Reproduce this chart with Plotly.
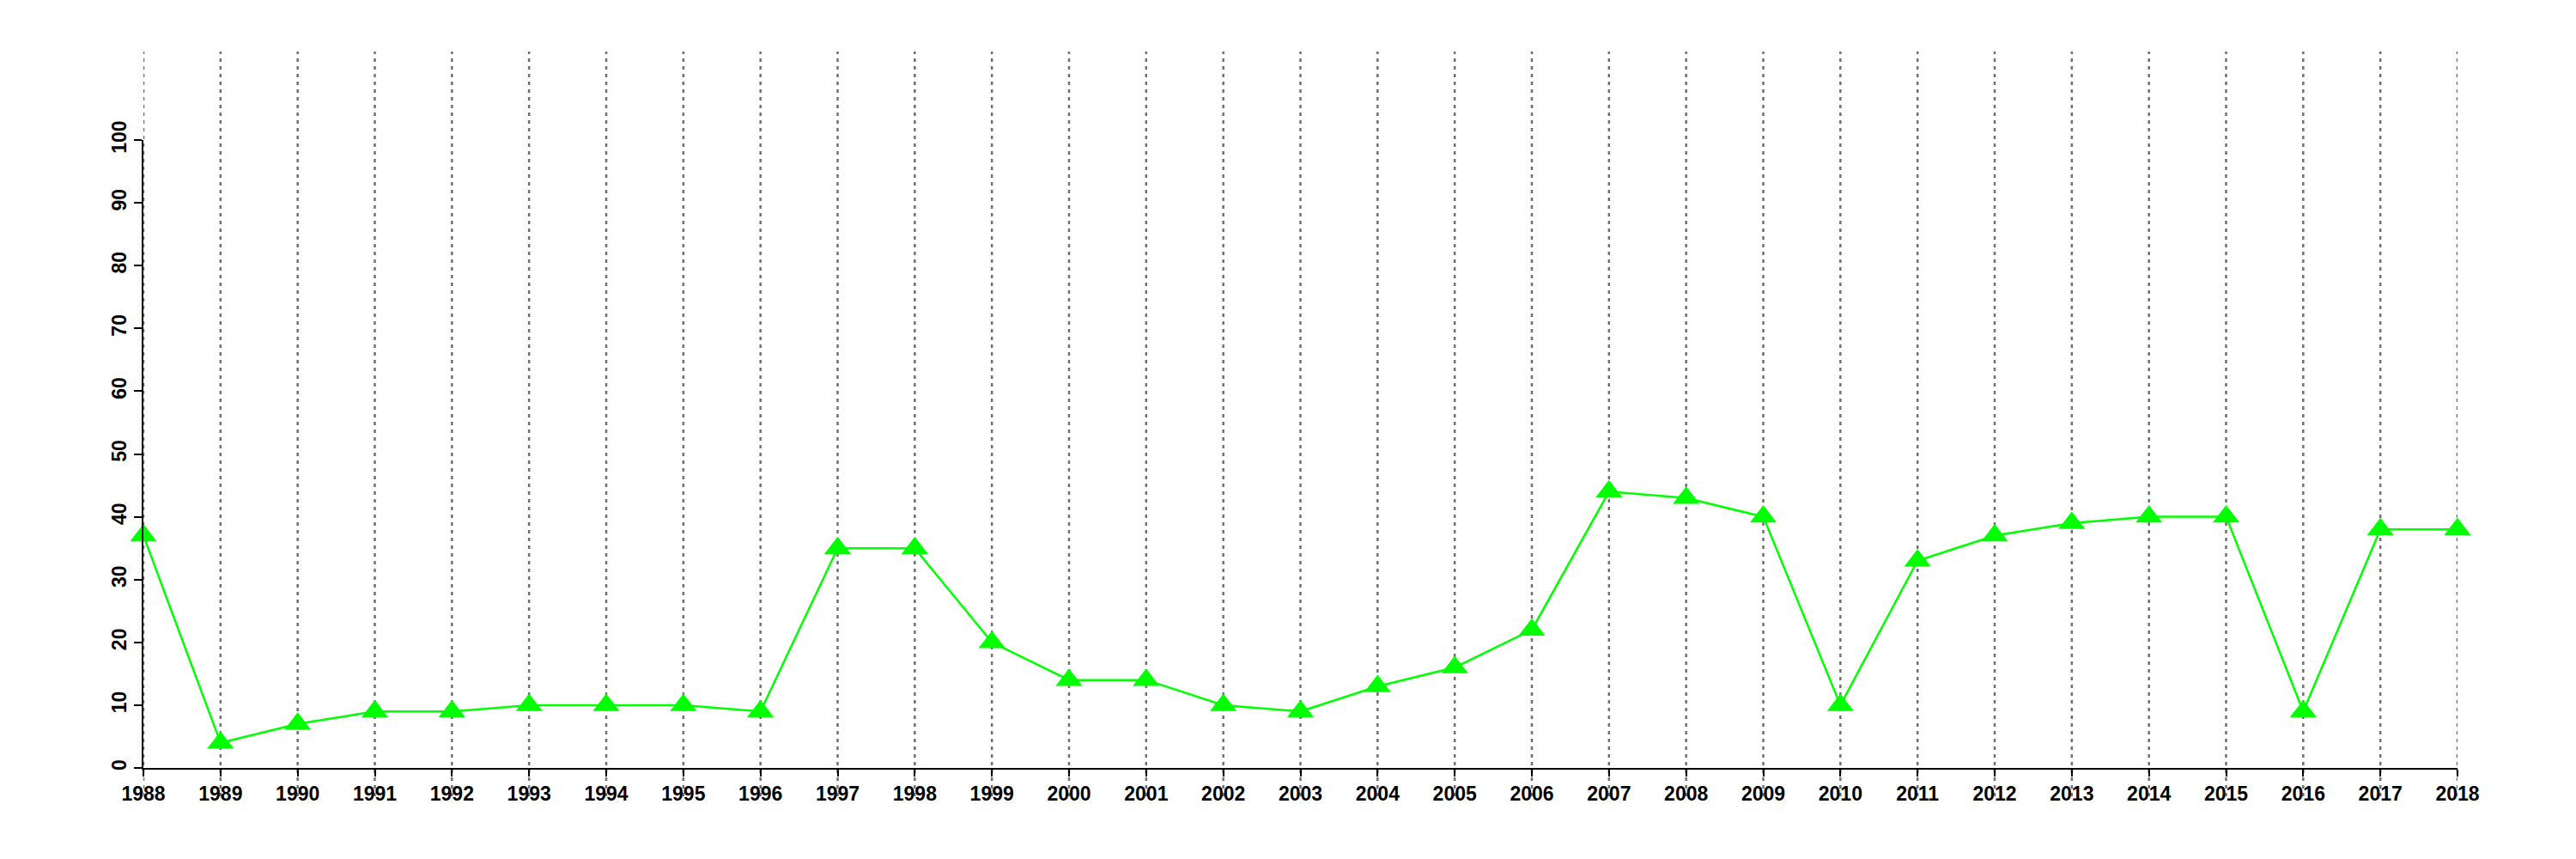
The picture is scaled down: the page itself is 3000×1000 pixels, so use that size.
import plotly.graph_objects as go

years = list(range(1988, 2019))
values = [37, 4, 7, 9, 9, 10, 10, 10, 9, 35, 35, 20, 14, 14, 10, 9, 13, 16, 22,
          44, 43, 40, 10, 33, 37, 39, 40, 40, 9, 38, 38]
y_ticks = list(range(0, 101, 10))

fig = go.Figure()
fig.add_trace(go.Scatter(
    x=years, y=values, mode="lines+markers",
    line=dict(color="#00FF00", width=2.5),
    marker=dict(symbol="triangle-up", size=27, color="#00FF00"),
    cliponaxis=False, showlegend=False,
))

for yr in years:
    fig.add_shape(type="line", xref="x", yref="paper", x0=yr, x1=yr,
                  y0=-0.045, y1=1.141, layer="below",
                  line=dict(color="#707070", width=2.5, dash="4px,5px"))

font = dict(family="Liberation Sans", size=23, color="black", weight="bold")
fig.update_layout(
    width=2984, height=984,
    margin=dict(l=159, r=130, t=155, b=98),
    plot_bgcolor="white", paper_bgcolor="white",
    font=font,
    xaxis=dict(range=[1988, 2018], tickvals=years, ticktext=[str(y) for y in years],
               showgrid=False, zeroline=False, showline=True, linecolor="black",
               linewidth=2, ticks="outside", ticklen=8, tickwidth=2, tickcolor="black",
               tickangle=0, tickfont=font, automargin=False),
    yaxis=dict(range=[0, 100], tickvals=y_ticks, showgrid=False, zeroline=False,
               showline=True, linecolor="black", linewidth=2, ticks="outside",
               ticklen=9, tickwidth=2, tickcolor="black", tickangle=-90, tickfont=font,
               automargin=False),
)
fig.write_html("out.html")
